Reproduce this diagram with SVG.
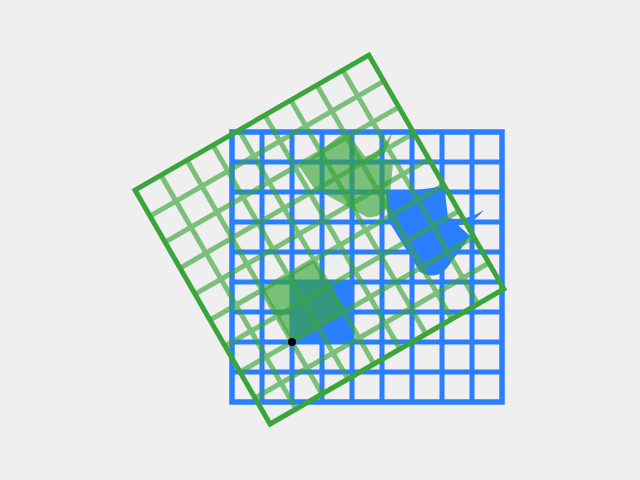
<svg xmlns="http://www.w3.org/2000/svg" width="640" height="480" viewBox="0 0 640 480">
  <defs>
    <style>
      .bg { fill: #efefef; }
      .blue-border { fill: none; stroke: #2a7fff; stroke-width: 5.5; }
      .blue-lines { fill: none; stroke: #2a7fff; stroke-width: 5; }
      .green-border { fill: none; stroke: #3aa53a; stroke-width: 5; }
      .green-lines { fill: none; stroke: #3aa53a; stroke-width: 5; stroke-opacity: 0.65; }
      .blue-fill { fill: #2a7fff; }
      .green-fill { fill: #3aa53a; fill-opacity: 0.65; }
    </style>
    <path id="gridLines" d="M262,132V402M292,132V402M322,132V402M352,132V402M382,132V402M412,132V402M442,132V402M472,132V402M232,162H502M232,192H502M232,222H502M232,252H502M232,282H502M232,312H502M232,342H502M232,372H502"/>
    <path id="blob" d="M386,194 L439,187 Q444,187 445,192 L448,218 Q465,222 484,210 Q470,226 458,225 L470,236 L450,264 Q438,282 420,272 L388,220 Z"/>
    <rect id="sq" x="292" y="282" width="60" height="60"/>
  </defs>
  <rect class="bg" x="0" y="0" width="640" height="480"/>

  <g id="blue-grid">
    <use href="#gridLines" class="blue-lines"/>
    <rect class="blue-border" x="232" y="132" width="270" height="270"/>
  </g>

  <g id="blue-square"><use href="#sq" class="blue-fill"/></g>
  <g id="blue-shape"><use href="#blob" class="blue-fill"/></g>

  <g id="green-square" transform="rotate(-30 292 342)"><use href="#sq" class="green-fill"/></g>
  <g id="green-shape" transform="rotate(-30 292 342)"><use href="#blob" class="green-fill"/></g>

  <g id="green-grid" transform="rotate(-30 292 342)">
    <use href="#gridLines" class="green-lines"/>
    <rect class="green-border" x="232" y="132" width="270" height="270"/>
  </g>

  <g id="pivot"><circle cx="292" cy="342" r="4" fill="#000"/></g>
</svg>
